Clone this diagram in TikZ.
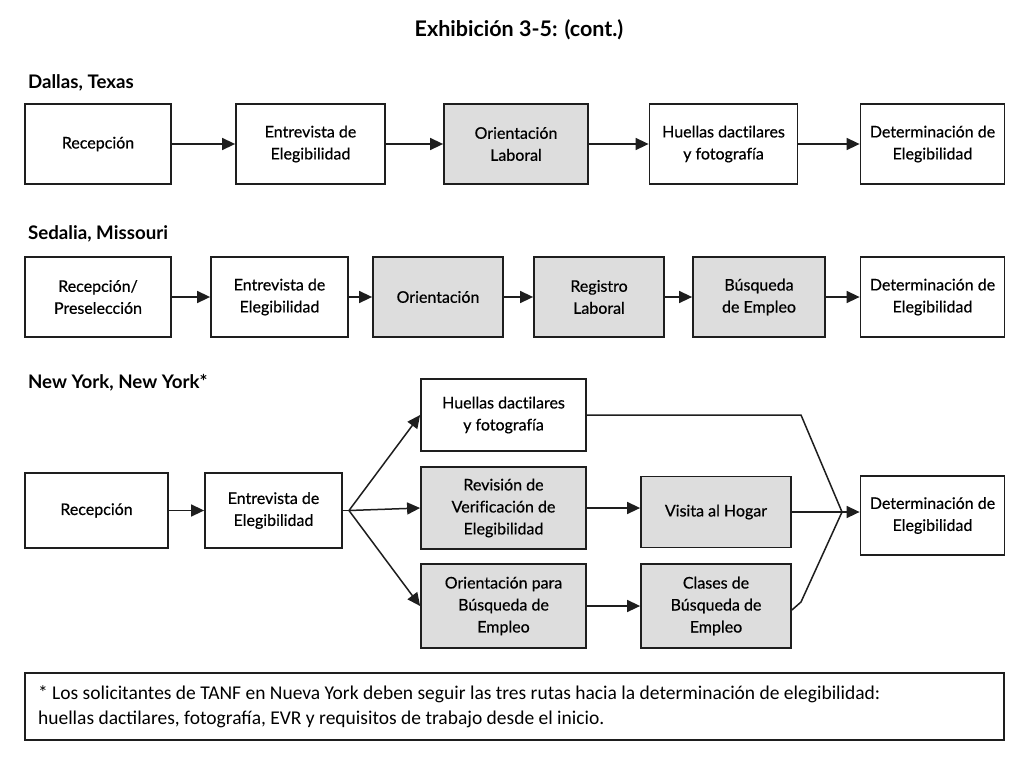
\documentclass[tikz,border=0pt]{standalone}
\usepackage{fontspec}
\setmainfont{Lato}[Ligatures={NoCommon,NoContextual}]
\newfontfamily\boxfont{Lato}[Ligatures={NoCommon,NoContextual},FakeBold=0.5]
\newfontfamily\notefont{Carlito}
\usetikzlibrary{arrows.meta}
\definecolor{cgray}{RGB}{221,221,221}
\definecolor{cline}{RGB}{30,30,30}
\tikzset{
  flow/.style={x=1pt,y=-1pt,font=\boxfont\fontsize{16}{22}\selectfont,line width=1.5pt,draw=cline},
  stepbox/.style={draw=cline,line width=1.8pt,fill=white,align=center,inner sep=0pt},
  graybox/.style={stepbox,fill=cgray},
  hdr/.style={anchor=west,font=\rmfamily\fontsize{18.7}{22}\selectfont\bfseries},
  arr/.style={-{Triangle[length=13pt,width=12pt]},line width=1.5pt}
}

\begin{document}
\begin{tikzpicture}[flow]
    \useasboundingbox[fill=white] (0,0) rectangle (1024,768);
    \node[font=\rmfamily\fontsize{21.5}{24}\selectfont\bfseries] (title) at (519,30) {Exhibición 3-5: (cont.)};
    % Dallas
    \node[hdr] (hd) at (24,83) {Dallas, Texas};
    \node[stepbox,minimum width=146,minimum height=80] (d1) at (98,144) {Recepción};
    \node[stepbox,minimum width=149,minimum height=80] (d2) at (310.5,144) {Entrevista de\\Elegibilidad};
    \node[graybox,minimum width=144,minimum height=80] (d3) at (516,144) {Orientación\\Laboral};
    \node[stepbox,minimum width=148,minimum height=80] (d4) at (723.5,144) {Huellas dactilares\\y fotografía};
    \node[stepbox,minimum width=144,minimum height=80] (d5) at (932.5,144) {Determinación de\\Elegibilidad};
    \foreach \a/\b in {d1/d2,d2/d3,d3/d4,d4/d5} \draw[arr] (\a) -- (\b);
    % Sedalia
    \node[hdr] (hs) at (24,234) {Sedalia, Missouri};
    \node[stepbox,minimum width=146,minimum height=80] (s1) at (98,297) {Recepción/\\Preselección};
    \node[stepbox,minimum width=137,minimum height=80] (s2) at (279.5,297) {Entrevista de\\Elegibilidad};
    \node[graybox,minimum width=130,minimum height=80] (s3) at (438,297) {Orientación};
    \node[graybox,minimum width=130,minimum height=80] (s4) at (599,297) {Registro\\Laboral};
    \node[graybox,minimum width=132,minimum height=80] (s5) at (759,297) {Búsqueda\\de Empleo};
    \node[stepbox,minimum width=144,minimum height=80] (s6) at (932.5,297) {Determinación de\\Elegibilidad};
    \foreach \a/\b in {s1/s2,s2/s3,s3/s4,s4/s5,s5/s6} \draw[arr] (\a) -- (\b);
    % New York
    \node[hdr] (hn) at (24,383) {New York, New York*};
    \node[stepbox,minimum width=143,minimum height=75] (n1) at (96.5,510.5) {Recepción};
    \node[stepbox,minimum width=137,minimum height=75] (n2) at (273.5,510.5) {Entrevista de\\Elegibilidad};
    \node[stepbox,minimum width=165,minimum height=72] (n3) at (503.5,415) {Huellas dactilares\\y fotografía};
    \node[graybox,minimum width=165,minimum height=82] (n4) at (503.5,508) {Revisión de\\Verificación de\\Elegibilidad};
    \node[graybox,minimum width=165,minimum height=84] (n5) at (503.5,606) {Orientación para\\Búsqueda de\\Empleo};
    \node[graybox,minimum width=150,minimum height=71] (n6) at (716,512) {Visita al Hogar};
    \node[graybox,minimum width=150,minimum height=84] (n7) at (716,606) {Clases de\\Búsqueda de\\Empleo};
    \node[stepbox,minimum width=144,minimum height=79] (n8) at (932.5,515.5) {Determinación de\\Elegibilidad};
    \coordinate (fan) at (349,510.5);
    \coordinate (join) at (842,512);
    \draw[arr] (n1) -- (n2);
    \draw (n2.east) -- (fan);
    \foreach \b in {n3,n4,n5} \draw[arr] (fan) -- (\b.west);
    \draw[arr] (n4) -- (n4 -| n6.west);
    \draw[arr] (n5) -- (n5 -| n7.west);
    \draw (n3.east) -- (801,415) -- (join);
    \draw ([yshift=-4]n7.east) -- (801,602) -- (join);
    \draw (n6.east) -- (join);
    \draw[arr] (join) -- (join -| n8.west);
    % note
    \node[draw=cline,line width=1.8pt,minimum width=979,minimum height=67,inner sep=0pt] (note) at (514.5,706.5) {};
    \node[anchor=west,align=left,font=\notefont\fontsize{19.5}{25}\selectfont] (notetxt) at (34,706.5)
      {* Los solicitantes de TANF en Nueva York deben seguir las tres rutas hacia la determinación de elegibilidad:\\
       huellas dactilares, fotografía, EVR y requisitos de trabajo desde el inicio.};
\end{tikzpicture}
\end{document}
